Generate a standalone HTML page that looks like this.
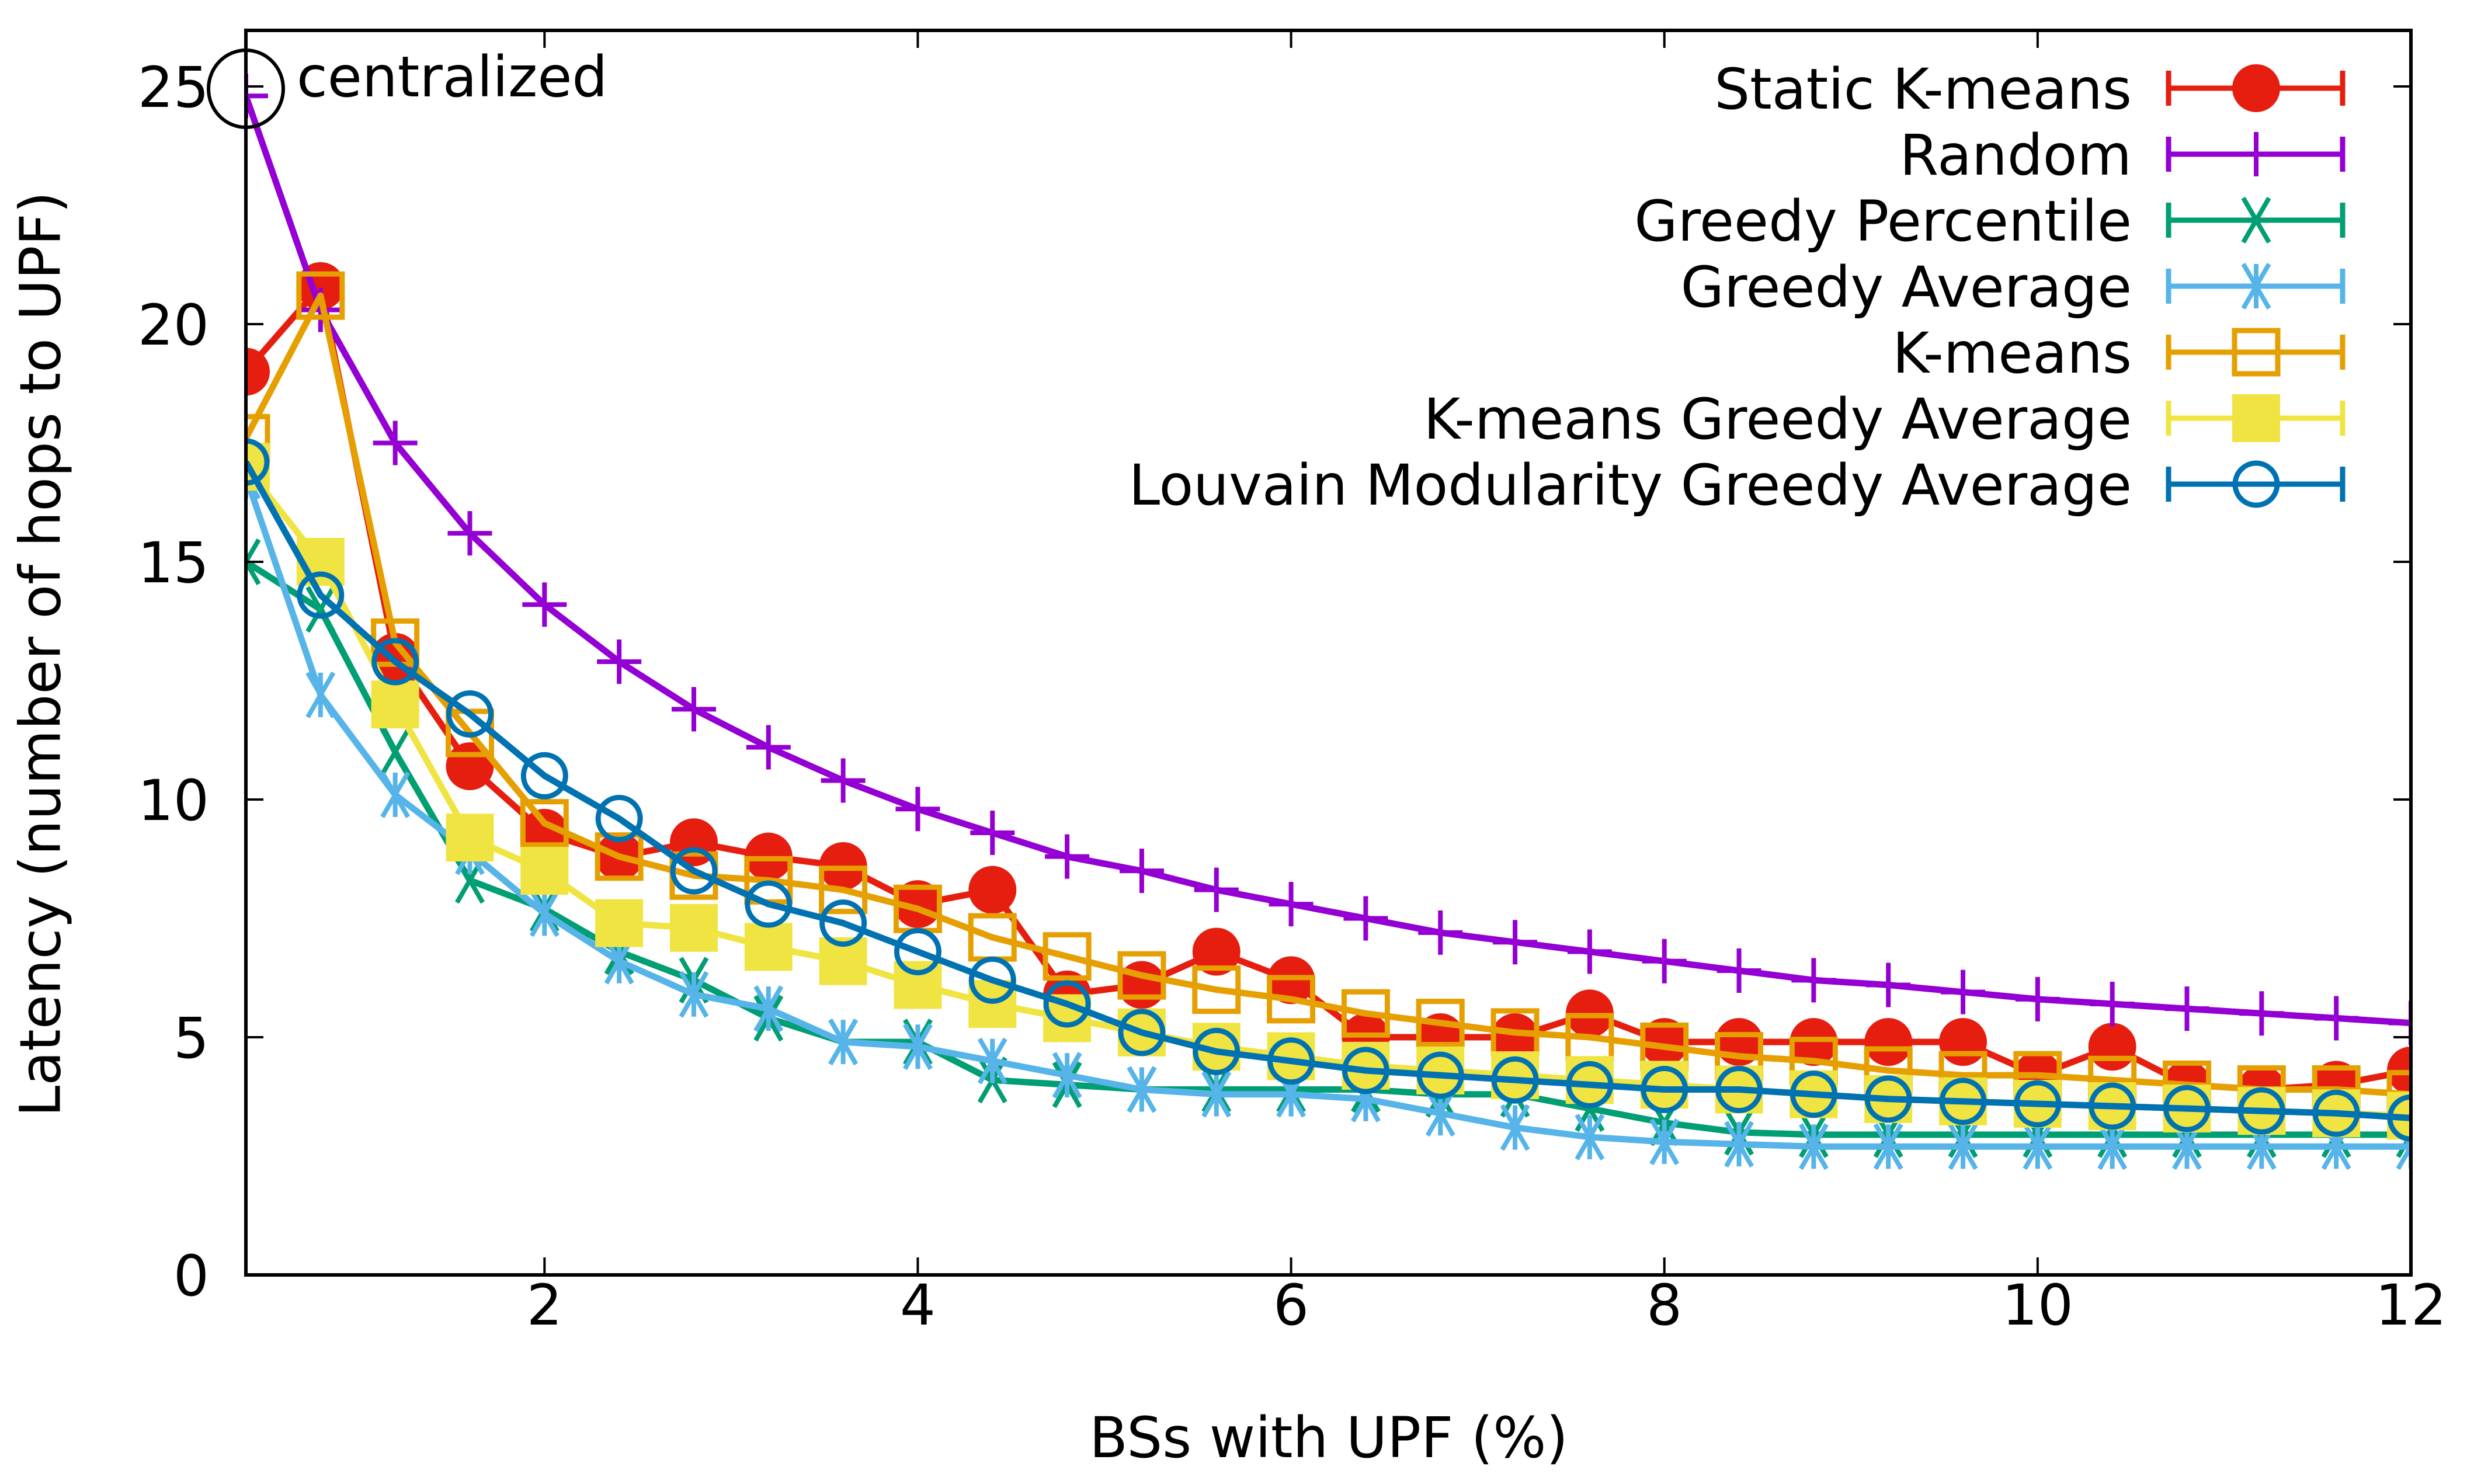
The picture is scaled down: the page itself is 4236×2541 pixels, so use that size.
<!DOCTYPE html>
<html><head><meta charset="utf-8"><style>
html,body{margin:0;padding:0;background:#fff}
svg{display:block}
text{font-family:"DejaVu Sans","Liberation Sans",sans-serif;fill:#000}
</style></head><body>
<svg id="chart" width="4236" height="2541" viewBox="0 0 4236 2541" xmlns="http://www.w3.org/2000/svg">
<rect x="0" y="0" width="4236" height="2541" fill="#fff"/>
<g id="series"></g>
<rect x="421" y="52" width="3707" height="2131" fill="none" stroke="#000" stroke-width="6"/>
<g id="ticks"></g>
<text x="76" y="1120" font-size="96" text-anchor="middle" dominant-baseline="middle" transform="rotate(-90 76 1120)">Latency (number of hops to UPF)</text>
<text x="2275" y="2495" font-size="96" text-anchor="middle">BSs with UPF (%)</text>
<ellipse cx="421" cy="152" rx="64" ry="66" fill="none" stroke="#000" stroke-width="6"/>
<text x="508" y="165" font-size="96">centralized</text>
<g id="legend"></g>
</svg>
<script>
const xValues = [0.4,0.8,1.2,1.6,2.0,2.4,2.8,3.2,3.6,4.0,4.4,4.8,5.2,5.6,6.0,6.4,6.8,7.2,7.6,8.0,8.4,8.8,9.2,9.6,10.0,10.4,10.8,11.2,11.6,12.0];
const staticKmeans = [19.0,20.8,13.0,10.7,9.3,8.8,9.1,8.8,8.6,7.8,8.1,5.9,6.1,6.8,6.2,5.0,5.0,5.0,5.5,4.9,4.9,4.9,4.9,4.9,4.2,4.8,4.0,3.9,4.0,4.3];
const randomVals = [24.8,20.3,17.5,15.6,14.1,12.9,11.9,11.1,10.4,9.8,9.3,8.8,8.5,8.1,7.8,7.5,7.2,7.0,6.8,6.6,6.4,6.2,6.1,5.95,5.8,5.7,5.6,5.5,5.4,5.3];
const greedyPercentile = [15.0,14.0,11.0,8.3,7.7,6.8,6.2,5.4,4.9,4.9,4.1,4.0,3.9,3.9,3.9,3.9,3.8,3.8,3.5,3.2,3.0,2.95,2.95,2.95,2.95,2.95,2.95,2.95,2.95,2.95];
const greedyAverage = [16.8,12.2,10.1,8.9,7.6,6.6,5.9,5.6,4.9,4.8,4.5,4.2,3.9,3.8,3.8,3.7,3.4,3.1,2.9,2.8,2.75,2.7,2.7,2.7,2.7,2.7,2.7,2.7,2.7,2.7];
const kmeansVals = [17.6,20.6,13.3,11.4,9.5,8.8,8.4,8.3,8.1,7.7,7.1,6.7,6.3,6.0,5.8,5.5,5.3,5.1,5.0,4.8,4.6,4.5,4.3,4.2,4.2,4.1,4.0,3.9,3.9,3.8];
const kmeansGreedyAvg = [17.0,15.0,12.0,9.2,8.5,7.4,7.3,6.9,6.6,6.1,5.7,5.4,5.1,4.8,4.6,4.4,4.3,4.2,4.1,4.0,3.9,3.8,3.7,3.65,3.6,3.55,3.5,3.45,3.4,3.35];
const louvainVals = [17.1,14.3,12.9,11.8,10.5,9.6,8.5,7.8,7.4,6.8,6.2,5.7,5.1,4.7,4.5,4.3,4.2,4.1,4.0,3.9,3.9,3.8,3.7,3.65,3.6,3.55,3.5,3.45,3.4,3.3];
const xTicks = [2,4,6,8,10,12];
const yTicks = [0,5,10,15,20,25];
const legendLabels = ["Static K-means","Random","Greedy Percentile","Greedy Average","K-means","K-means Greedy Average","Louvain Modularity Greedy Average"];

const NS="http://www.w3.org/2000/svg";
const L=421,R=4128,B=2183;
function sx(v){return L+(v-0.4)*(R-L)/11.6;}
function sy(v){return B-v*81.4;}
function mk(tag,attrs,parent){const e=document.createElementNS(NS,tag);for(const k in attrs)e.setAttribute(k,attrs[k]);parent.appendChild(e);return e;}

const ticks=document.getElementById('ticks');
xTicks.forEach(t=>{
  const x=sx(t);
  const a=mk('line',{x1:x,y1:B,x2:x,y2:B-30,stroke:'#000','stroke-width':4},ticks);
  
  
  const b=mk('line',{x1:x,y1:52,x2:x,y2:82,stroke:'#000','stroke-width':4},ticks);
  
  
  const tx=mk('text',{x:x,y:2268,'font-size':96,'text-anchor':'middle'},ticks);
  tx.textContent=t;
  
  
});
yTicks.forEach(t=>{
  const y=sy(t);
  const a=mk('line',{x1:L,y1:y,x2:L+30,y2:y,stroke:'#000','stroke-width':4},ticks);
  
  
  const b=mk('line',{x1:R,y1:y,x2:R-30,y2:y,stroke:'#000','stroke-width':4},ticks);
  
  
  const tx=mk('text',{x:358,y:y+35,'font-size':96,'text-anchor':'end'},ticks);
  tx.textContent=t;
  
  
});

const seriesDefs=[
  {name:'static-k-means',vals:staticKmeans,color:'#e51e10',marker:'fcircle'},
  {name:'random',vals:randomVals,color:'#9400d3',marker:'plus'},
  {name:'greedy-percentile',vals:greedyPercentile,color:'#009e73',marker:'x'},
  {name:'greedy-average',vals:greedyAverage,color:'#56b4e9',marker:'star'},
  {name:'k-means',vals:kmeansVals,color:'#e69f00',marker:'osquare'},
  {name:'k-means-greedy-average',vals:kmeansGreedyAvg,color:'#f0e442',marker:'fsquare'},
  {name:'louvain-greedy-average',vals:louvainVals,color:'#0072b2',marker:'ocircle'}
];

function marker(g,type,x,y,color){
  let e;
  if(type==='fcircle'){e=mk('ellipse',{cx:x,cy:y,rx:41,ry:41,fill:color},g);}
  else if(type==='ocircle'){e=mk('circle',{cx:x,cy:y,r:36,fill:'none',stroke:color,'stroke-width':9},g);}
  else if(type==='osquare'){e=mk('rect',{x:x-37,y:y-37,width:74,height:74,fill:'none',stroke:color,'stroke-width':9},g);}
  else if(type==='fsquare'){e=mk('rect',{x:x-41,y:y-41,width:82,height:82,fill:color},g);}
  else if(type==='plus'){e=mk('path',{d:`M${x-38} ${y}H${x+38}M${x} ${y-38}V${y+38}`,stroke:color,'stroke-width':8,fill:'none'},g);}
  else if(type==='x'){e=mk('path',{d:`M${x-22} ${y-38}L${x+22} ${y+38}M${x+22} ${y-38}L${x-22} ${y+38}`,stroke:color,'stroke-width':8,fill:'none'},g);}
  else {e=mk('path',{d:`M${x-22} ${y-38}L${x+22} ${y+38}M${x+22} ${y-38}L${x-22} ${y+38}M${x} ${y-38}V${y+38}`,stroke:color,'stroke-width':8,fill:'none'},g);}
  
  
}

const sg=document.getElementById('series');
const clip=mk('clipPath',{id:'pc'},sg);
mk('rect',{x:L,y:52,width:R-L,height:B-52},clip);
const lg=document.getElementById('legend');
seriesDefs.forEach((s,i)=>{
  const g=mk('g',{'clip-path':'url(#pc)'},sg);
  
  
  const d=s.vals.map((v,j)=>(j?'L':'M')+sx(xValues[j]).toFixed(1)+' '+sy(v).toFixed(1)).join(' ');
  const p=mk('path',{d:d,fill:'none',stroke:s.color,'stroke-width':11,'stroke-linejoin':'round'},g);
  
  
  s.vals.forEach((v,j)=>marker(g,s.marker,sx(xValues[j]),sy(v),s.color));
  const ly=151+i*113;
  const lgi=mk('g',{},lg);
  
  
  const t=mk('text',{x:3650,y:ly+35,'font-size':96,'text-anchor':'end'},lgi);
  t.textContent=legendLabels[i];
  mk('path',{d:`M3713 ${ly}H4011M3713 ${ly-30}V${ly+30}M4011 ${ly-30}V${ly+30}`,stroke:s.color,'stroke-width':9,fill:'none'},lgi);
  marker(lgi,s.marker,3863,ly,s.color);
});
</script>
</body></html>
